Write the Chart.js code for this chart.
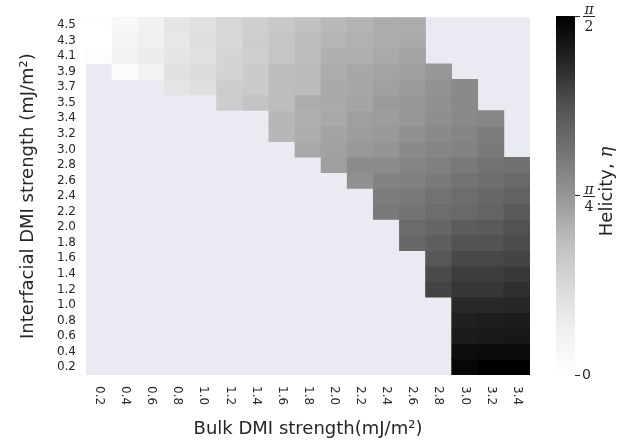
<!DOCTYPE html>
<html>
<head>
<meta charset="utf-8">
<script src="https://cdn.jsdelivr.net/npm/chart.js@4.4.1/dist/chart.umd.min.js"></script>
<style>
  html, body { margin: 0; padding: 0; background: #fff; }
  #wrap { position: relative; width: 641px; height: 444px; }
  #heat { position: absolute; left: 0; top: 0; }
  #cbar { position: absolute; left: 540px; top: 0; }
</style>
</head>
<body>
<div id="wrap">
  <canvas id="heat" width="641" height="444"></canvas>
  <canvas id="cbar" width="101" height="444"></canvas>
</div>
<script>
// bulk DMI (columns) and interfacial DMI (rows, top to bottom)
var xLabels = ['0.2','0.4','0.6','0.8','1.0','1.2','1.4','1.6','1.8','2.0','2.2','2.4','2.6','2.8','3.0','3.2','3.4'];
var yLabels = ['4.5','4.3','4.1','3.9','3.7','3.5','3.4','3.2','3.0','2.8','2.6','2.4','2.2','2.0','1.8','1.6','1.4','1.2','1.0','0.8','0.6','0.4','0.2'];

// helicity in radians, null = no skyrmion
var N = null;
var helicity = [
  [0.00,0.09,0.18,0.29,0.33,0.41,0.46,0.51,0.56,0.61,0.64,0.67,0.67,N,N,N,N],
  [0.00,0.14,0.20,0.27,0.35,0.41,0.48,0.53,0.59,0.63,0.65,0.67,0.69,N,N,N,N],
  [0.03,0.17,0.23,0.29,0.33,0.43,0.46,0.53,0.59,0.66,0.66,0.69,0.72,N,N,N,N],
  [N,0.04,0.17,0.33,0.37,0.43,0.49,0.59,0.60,0.67,0.70,0.72,0.74,0.78,N,N,N],
  [N,N,N,0.30,0.34,0.48,0.49,0.59,0.60,0.69,0.70,0.73,0.76,0.80,0.85,N,N],
  [N,N,N,N,N,0.48,0.55,0.59,0.67,0.69,0.71,0.76,0.78,0.82,0.86,N,N],
  [N,N,N,N,N,N,N,0.62,0.66,0.69,0.74,0.75,0.78,0.83,0.86,0.87,N],
  [N,N,N,N,N,N,N,0.62,0.67,0.72,0.75,0.77,0.82,0.85,0.88,0.93,N],
  [N,N,N,N,N,N,N,N,0.69,0.73,0.77,0.79,0.85,0.88,0.90,0.94,N],
  [N,N,N,N,N,N,N,N,N,0.74,0.84,0.84,0.88,0.91,0.94,0.98,1.00],
  [N,N,N,N,N,N,N,N,N,N,0.82,0.89,0.91,0.94,0.98,1.01,1.04],
  [N,N,N,N,N,N,N,N,N,N,N,0.93,0.95,0.99,1.02,1.05,1.08],
  [N,N,N,N,N,N,N,N,N,N,N,0.94,0.98,1.02,1.04,1.07,1.13],
  [N,N,N,N,N,N,N,N,N,N,N,N,1.03,1.06,1.12,1.13,1.18],
  [N,N,N,N,N,N,N,N,N,N,N,N,1.05,1.10,1.17,1.17,1.20],
  [N,N,N,N,N,N,N,N,N,N,N,N,N,1.15,1.22,1.22,1.24],
  [N,N,N,N,N,N,N,N,N,N,N,N,N,1.21,1.27,1.27,1.29],
  [N,N,N,N,N,N,N,N,N,N,N,N,N,1.24,1.30,1.30,1.33],
  [N,N,N,N,N,N,N,N,N,N,N,N,N,N,1.36,1.36,1.37],
  [N,N,N,N,N,N,N,N,N,N,N,N,N,N,1.40,1.41,1.42],
  [N,N,N,N,N,N,N,N,N,N,N,N,N,N,1.43,1.44,1.45],
  [N,N,N,N,N,N,N,N,N,N,N,N,N,N,1.50,1.51,1.51],
  [N,N,N,N,N,N,N,N,N,N,N,N,N,N,1.54,1.57,1.57]
];

// colorbar ticks: 0, pi/4, pi/2 (fractions are drawn as numerator over denominator)
var cbarTicks = [0, Math.PI / 4, Math.PI / 2];
var cbarTickLabels = ['0', ['π', '4'], ['π', '2']];

// matplotlib "Greys" stops
var greyStops = [255, 240, 217, 189, 150, 115, 82, 37, 0];

function greys(v) {
  var t = Math.min(Math.max(v / (Math.PI / 2), 0), 1) * 8;
  var i = Math.min(Math.floor(t), 7);
  var g = Math.round(greyStops[i] + (greyStops[i + 1] - greyStops[i]) * (t - i));
  return 'rgb(' + g + ',' + g + ',' + g + ')';
}

Chart.defaults.font.family = "'DejaVu Sans', sans-serif";
Chart.defaults.color = '#262626';

var TEXT = '#262626';

var heatPlugin = {
  id: 'heatBg',
  beforeDraw: function(chart) {
    var a = chart.chartArea, ctx = chart.ctx;
    ctx.save();
    ctx.fillStyle = '#eaeaf2';
    ctx.fillRect(a.left, a.top, a.right - a.left, a.bottom - a.top);
    ctx.restore();
  },
  afterDraw: function(chart) {
    // x tick labels, turned clockwise like the original
    var ctx = chart.ctx, xs = chart.scales.x;
    ctx.save();
    ctx.font = "12px 'DejaVu Sans'";
    ctx.fillStyle = TEXT;
    ctx.textAlign = 'left';
    ctx.textBaseline = 'middle';
    for (var i = 0; i < xLabels.length; i++) {
      ctx.save();
      ctx.translate(xs.getPixelForValue(i), chart.chartArea.bottom + 11);
      ctx.rotate(Math.PI / 2);
      ctx.fillText(xLabels[i], 0, 0);
      ctx.restore();
    }
    ctx.restore();
  }
};

function makeDatasets() {
  var datasets = [];
  for (var r = 0; r < helicity.length; r++) {
    var row = helicity[r];
    datasets.push({
      label: yLabels[r],
      data: row.map(function(v) { return v === null ? null : [r - 0.5, r + 0.5]; }),
      backgroundColor: row.map(function(v) { return v === null ? 'rgba(0,0,0,0)' : greys(v); }),
      borderWidth: 0,
      grouped: false,
      barPercentage: 1,
      categoryPercentage: 1
    });
  }
  return datasets;
}

new Chart(document.getElementById('heat'), {
  type: 'bar',
  data: { labels: xLabels, datasets: makeDatasets() },
  options: {
    responsive: false,
    animation: false,
    events: [],
    layout: { padding: { left: 18, right: 111, top: 16, bottom: 4 } },
    plugins: { legend: { display: false }, tooltip: { enabled: false } },
    scales: {
      x: {
        type: 'category',
        offset: true,
        grid: { display: false, drawTicks: false },
        border: { display: false },
        ticks: { display: false },
        title: { display: true, text: 'Bulk DMI strength(mJ/m²)', font: { size: 18 }, color: TEXT, padding: 0 },
        afterFit: function(s) { s.height = 65; }
      },
      y: {
        type: 'linear',
        reverse: true,
        min: -0.5,
        max: yLabels.length - 0.5,
        grid: { display: false, drawTicks: false },
        border: { display: false },
        afterBuildTicks: function(s) {
          s.ticks = yLabels.map(function(l, i) { return { value: i }; });
        },
        ticks: {
          autoSkip: false,
          padding: 10,
          font: { size: 12 },
          color: TEXT,
          callback: function(v) { return yLabels[v]; }
        },
        title: { display: true, text: 'Interfacial DMI strength (mJ/m²)', font: { size: 18 }, color: TEXT, padding: 0 },
        afterFit: function(s) { s.width = 68; }
      }
    }
  },
  plugins: [heatPlugin]
});

var cbarPlugin = {
  id: 'cbarText',
  afterDraw: function(chart) {
    var ctx = chart.ctx, ys = chart.scales.y, a = chart.chartArea;
    ctx.save();
    ctx.fillStyle = TEXT;
    ctx.textAlign = 'center';
    ctx.textBaseline = 'alphabetic';
    var cx = a.right + 14;
    for (var i = 0; i < cbarTicks.length; i++) {
      var lab = cbarTickLabels[i];
      if (!Array.isArray(lab)) continue;
      var y = Math.round(ys.getPixelForValue(cbarTicks[i]));
      ctx.fillRect(cx - 6, y, 12, 1);
      ctx.font = "italic 14px 'DejaVu Serif'";
      ctx.fillText(lab[0], cx, y - 2);
      ctx.font = "14px 'DejaVu Serif'";
      ctx.fillText(lab[1], cx, y + 15);
    }
    // colorbar title
    var y0 = (a.top + a.bottom) / 2 - 4;
    ctx.translate(67, y0);
    ctx.rotate(-Math.PI / 2);
    ctx.textBaseline = 'middle';
    ctx.textAlign = 'left';
    ctx.font = "18px 'DejaVu Sans'";
    var t1 = 'Helicity, ';
    var w1 = ctx.measureText(t1).width;
    ctx.font = "italic 18px 'DejaVu Serif'";
    var w2 = ctx.measureText('η').width;
    var x0 = -(w1 + w2) / 2;
    ctx.font = "18px 'DejaVu Sans'";
    ctx.fillText(t1, x0, 0);
    ctx.font = "italic 18px 'DejaVu Serif'";
    ctx.fillText('η', x0 + w1, 0);
    ctx.restore();
  }
};

new Chart(document.getElementById('cbar'), {
  type: 'bar',
  data: {
    labels: [''],
    datasets: [{
      data: [[0, Math.PI / 2]],
      borderWidth: 0,
      barPercentage: 1,
      categoryPercentage: 1,
      backgroundColor: function(c) {
        var a = c.chart.chartArea;
        if (!a) return '#888';
        var g = c.chart.ctx.createLinearGradient(0, a.bottom, 0, a.top);
        greyStops.forEach(function(s, i) { g.addColorStop(i / 8, 'rgb(' + s + ',' + s + ',' + s + ')'); });
        return g;
      }
    }]
  },
  options: {
    responsive: false,
    animation: false,
    events: [],
    layout: { padding: { left: 16, right: 0, top: 16, bottom: 69 } },
    plugins: { legend: { display: false }, tooltip: { enabled: false } },
    scales: {
      x: { display: false, offset: true },
      y: {
        position: 'right',
        min: 0,
        max: Math.PI / 2,
        grid: { drawOnChartArea: false, drawTicks: true, tickLength: 5, color: TEXT },
        border: { display: false },
        afterBuildTicks: function(s) {
          s.ticks = cbarTicks.map(function(v) { return { value: v }; });
        },
        ticks: {
          padding: 2,
          color: TEXT,
          font: { size: 14 },
          callback: function(v, i) { return Array.isArray(cbarTickLabels[i]) ? '' : cbarTickLabels[i]; }
        },
        afterFit: function(s) { s.width = 66; }
      }
    }
  },
  plugins: [cbarPlugin]
});
</script>
</body>
</html>
